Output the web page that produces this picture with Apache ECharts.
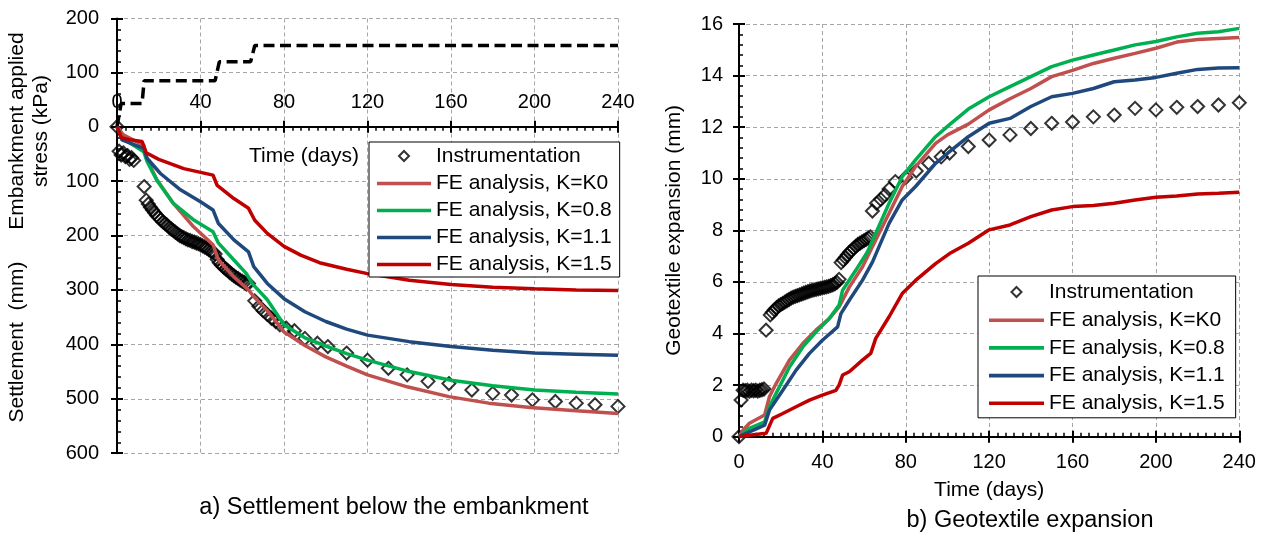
<!DOCTYPE html>
<html><head><meta charset="utf-8">
<script src="https://cdn.jsdelivr.net/npm/echarts@6/dist/echarts.min.js"></script>
<style>html,body{margin:0;padding:0;background:#fff}#c{width:1267px;height:533px}</style>
</head><body><div id="c"></div>
<script>
// ---------- DATA ----------
const seriesNames = ['Instrumentation','FE analysis, K=K0','FE analysis, K=0.8','FE analysis, K=1.1','FE analysis, K=1.5'];
const timeAxis = [0, 240, 40];        // min, max, step (days)
const stressAxis = [0, 200, 100];     // kPa
const settleAxis = [0, 600, 100];     // mm
const geoAxis = [0, 16, 2];           // mm

// Embankment applied stress (kPa)
const stressDays = [0, 2, 12, 13, 47, 49, 64, 66, 240];
const stressKPa  = [0, 43, 43, 85, 85, 120, 120, 150, 150];

// Settlement (mm) - instrumentation
const instDaysL = [0,1,2,3,4,5,6,7,8,13,14,15,16,17,18,19,20,21,22,23,24,25,26,27,28,29,30,31,32,33,34,35,36,37,38,39,40,41,42,43,44,45,46,47,48,49,50,51,52,53,54,55,56,57,58,59,60,61,62,63,66,68,70,72,74,76,78,81,85,90,96,101,110,120,130,139,149,159,170,180,189,199,210,220,229,240];
const instSettle = [0,45,52,48,55,53,60,57,62,110,135,142,148,153,158,163,167,171,175,178,181,185,188,191,194,197,200,202,204,206,208,209,211,212,214,215,217,219,221,223,226,229,231,234,244,250,254,258,261,264,268,271,274,277,279,282,284,286,289,288,320,330,338,345,352,358,364,370,375,389,398,404,416,429,444,456,468,472,484,490,493,502,505,508,511,514];

// Settlement (mm) - FE analyses
const k0DaysL = [0,3,12.8,14.4,19.2,27,36.7,46,48.6,56,63,65.5,72,80,90,100,110,120,139,159,178,198,220,240];
const k0Settle = [0,15,34,61,98,141,184,217,245,276,300,312,338,377,402,423,440,456,478,496,508,516,522,527];
const k08DaysL = [0,2.4,12.8,14.4,19,27,37,46,48.6,56,62,64.7,72,80,90,100,110,120,140,160,180,200,220,240];
const k08Settle = [0,21,46,64,98,141,172,193,214,245,270,288,318,364,388,403,417,429,450,466,476,484,488,491];
const k11DaysL = [0,2.4,12.8,14.4,20.8,30.4,40,46,48.6,56,63,65.5,72,80,90,100,110,120,140,160,180,200,220,240];
const k11Settle = [0,24,40,58,86,116,138,153,178,208,230,257,288,316,340,358,372,383,395,404,411,416,418,420];
const k15DaysL = [0,2,6,12,14,20,32,46,48,56,63,66,72,80,88,97,110,120,140,160,180,200,220,240];
const k15Settle = [0,20,24,27,48,60,77,89,108,132,150,172,196,220,236,250,262,270,282,290,295,298,300,301];

// Geotextile expansion (mm) - instrumentation
const instDaysR = [0,1,2,3,4,5,6,7,8,9,10,11,12,13,15,16,17,18,19,20,21,22,23,24,25,26,27,28,29,30,31,32,33,34,35,36,37,38,39,40,41,42,43,44,45,46,47,48,49,50,51,52,53,54,55,56,57,58,59,60,61,62,63,64,66,68,70,72,75,80,85,91,97,101,110,120,130,140,150,160,170,180,190,200,210,220,230,240];
const instExp = [0,1.42,1.8,1.78,1.8,1.76,1.8,1.78,1.8,1.77,1.8,1.82,1.85,4.13,4.72,4.82,4.92,5.0,5.07,5.12,5.17,5.22,5.27,5.32,5.37,5.41,5.44,5.47,5.5,5.53,5.56,5.59,5.62,5.65,5.67,5.69,5.71,5.73,5.75,5.77,5.79,5.81,5.83,5.86,5.89,5.93,5.98,6.1,6.75,6.85,6.95,7.05,7.15,7.22,7.3,7.38,7.45,7.5,7.55,7.6,7.65,7.7,7.75,8.75,9.05,9.2,9.37,9.6,9.89,10.05,10.3,10.6,10.85,11.0,11.25,11.5,11.7,11.95,12.15,12.2,12.4,12.47,12.73,12.67,12.77,12.8,12.86,12.95];

// Geotextile expansion (mm) - FE analyses
const k0DaysR = [0,2,5,12.3,14.6,17.8,24.2,30.6,36.9,43.3,48,52.9,59.2,62.4,65.6,72,78.3,84.7,94.3,100,110,120,130,140,150,160,170,180,190,200,210,220,230,240];
const k0Exp = [0,0.26,0.52,0.84,1.55,2.06,2.97,3.61,4.13,4.58,5.03,5.8,6.58,7.1,7.63,8.66,9.7,10.47,11.37,11.7,12.12,12.67,13.1,13.5,13.96,14.2,14.47,14.67,14.86,15.06,15.3,15.4,15.44,15.48];
const k08DaysR = [0,5,12.3,14.6,17.8,24.2,30.6,36.9,43.3,48,49.7,56,61.6,65.6,72,78.3,84.7,94.3,101,110,120,130,140,150,160,170,180,190,200,210,220,230,240];
const k08Exp = [0,0.32,0.58,1.16,1.68,2.7,3.48,4.06,4.58,5.1,5.68,6.45,7.16,7.89,9.05,10.08,10.73,11.63,12.1,12.7,13.18,13.57,13.96,14.35,14.6,14.8,14.99,15.19,15.32,15.5,15.64,15.7,15.83];
const k11DaysR = [0,5,12.3,14.6,21,27.4,33.8,40,47.3,48.9,52.9,59.2,64,67.2,72,78.3,84.7,94.3,101,110,120,130,140,150,160,170,180,190,200,210,220,230,240];
const k11Exp = [0,0.19,0.45,1.03,1.8,2.58,3.23,3.74,4.26,4.77,5.29,6.06,6.77,7.37,8.27,9.18,9.7,10.6,11.05,11.63,12.15,12.34,12.8,13.18,13.31,13.5,13.76,13.83,13.93,14.09,14.24,14.29,14.3];
const k15DaysR = [0,5,13,16.2,21,27.4,33.8,40,46.5,48,49.7,52.9,59.2,63.2,65.6,72,78.3,84.7,94.3,101,110,120,130,140,150,160,170,180,190,200,210,220,230,240];
const k15Exp = [0,0.06,0.13,0.71,0.9,1.16,1.42,1.61,1.8,2.0,2.39,2.52,2.97,3.23,3.81,4.65,5.55,6.06,6.71,7.1,7.5,8.02,8.21,8.53,8.79,8.92,8.96,9.05,9.18,9.28,9.33,9.41,9.44,9.48];

// ---------- CHART ----------
const zip = (a, b) => a.map((v, i) => [v, b[i]]);
const FONT = "'Liberation Sans', Arial, Helvetica, sans-serif";
const colors = ['#000000', '#C0504D', '#00B050', '#1F497D', '#C00000'];
const LINE_W = 3.5;
const dash = { show: true, lineStyle: { color: '#a6a6a6', width: 1, type: [4, 3] } };
const lbl = (m, extra) => Object.assign({ color: '#000', fontSize: 20, fontFamily: FONT, margin: m }, extra || {});

function mainAxis(gi, rng, o) {
  return Object.assign({
    type: 'value', gridIndex: gi, min: rng[0], max: rng[1], interval: rng[2],
    axisLine: { show: true, onZero: false, lineStyle: { color: '#000', width: 2 } },
    axisTick: { show: true, inside: true, length: 6, lineStyle: { color: '#000', width: 2 } },
    minorTick: { show: true, splitNumber: 5, length: 4, lineStyle: { color: '#000', width: 1.5 } },
    splitLine: dash, minorSplitLine: { show: false }
  }, o);
}
function overlayAxis(gi, rng, o) {
  return Object.assign({
    type: 'value', gridIndex: gi, min: rng[0], max: rng[1], interval: rng[2],
    axisLine: { show: false, onZero: false }, axisLabel: { show: false }, splitLine: { show: false },
    axisTick: { show: true, inside: false, length: 6, lineStyle: { color: '#000', width: 2 } },
    minorTick: { show: false }
  }, o);
}

const instStyle = { color: 'rgba(0,0,0,0)', borderColor: '#000', borderWidth: 2 };
function feSeries(name, color, xi, yi, data) {
  return { name, type: 'line', xAxisIndex: xi, yAxisIndex: yi, data, symbol: 'none', smooth: false,
    lineStyle: { color, width: LINE_W }, itemStyle: { color }, z: 3 };
}
function instSeries(xi, yi, data) {
  return { name: seriesNames[0], type: 'scatter', xAxisIndex: xi, yAxisIndex: yi, data,
    symbol: 'diamond', symbolSize: 13, itemStyle: instStyle, z: 2 };
}
function legendData(w) {
  const lineIcon = 'path://M0,0L0,0M' + w + ',20L' + w + ',20M0,8.2L' + w + ',8.2L' + w + ',11.8L0,11.8Z';
  return [
    { name: seriesNames[0], icon: 'path://M0,0L0,0M20,20L20,20M10,5L15,10L10,15L5,10Z', itemStyle: { color: 'rgba(0,0,0,0)', borderColor: '#000', borderWidth: 2 } },
    { name: seriesNames[1], icon: lineIcon, itemStyle: { color: colors[1], borderWidth: 0 } },
    { name: seriesNames[2], icon: lineIcon, itemStyle: { color: colors[2], borderWidth: 0 } },
    { name: seriesNames[3], icon: lineIcon, itemStyle: { color: colors[3], borderWidth: 0 } },
    { name: seriesNames[4], icon: lineIcon, itemStyle: { color: colors[4], borderWidth: 0 } }
  ];
}
function legend(left, top, pad, gap, w) {
  return { data: legendData(w), orient: 'vertical', left, top, padding: pad, itemGap: gap, itemWidth: w, itemHeight: 20,
    borderColor: '#000', borderWidth: 1, backgroundColor: '#fff', selectedMode: false, borderRadius: 0,
    textStyle: { color: '#000', fontSize: 21, fontFamily: FONT } };
}

const chart = echarts.init(document.getElementById('c'), null, { renderer: 'canvas' });
chart.setOption({
  animation: false,
  backgroundColor: '#fff',
  textStyle: { fontFamily: FONT },
  grid: [
    { left: 117, top: 18.5, width: 501, height: 108.2, outerBoundsMode: 'none' },
    { left: 117, top: 126.7, width: 501, height: 326.5, outerBoundsMode: 'none' },
    { left: 739, top: 24, width: 500.3, height: 412.7, outerBoundsMode: 'none' }
  ],
  xAxis: [
    { type: 'value', gridIndex: 0, min: timeAxis[0], max: timeAxis[1], interval: timeAxis[2],
      axisLine: { show: false }, axisTick: { show: false }, axisLabel: { show: false }, splitLine: dash },
    mainAxis(1, timeAxis, { position: 'top', axisLabel: lbl(14), minorTick: { show: true, splitNumber: 10, length: 4, lineStyle: { color: '#000', width: 1.5 } } }),
    overlayAxis(1, timeAxis, { position: 'top' }),
    mainAxis(2, timeAxis, { position: 'bottom', axisLabel: lbl(16), minorTick: { show: true, splitNumber: 10, length: 4, lineStyle: { color: '#000', width: 1.5 } },
      name: 'Time (days)', nameLocation: 'middle', nameGap: 43, nameTextStyle: { color: '#000', fontSize: 21, fontFamily: FONT } }),
    overlayAxis(2, timeAxis, { position: 'bottom' })
  ],
  yAxis: [
    mainAxis(0, stressAxis, { position: 'left', axisLabel: lbl(18, { showMinLabel: false }) }),
    overlayAxis(0, stressAxis, { position: 'left' }),
    mainAxis(1, settleAxis, { position: 'left', inverse: true, axisLabel: lbl(18) }),
    overlayAxis(1, settleAxis, { position: 'left', inverse: true }),
    mainAxis(2, geoAxis, { position: 'left', axisLabel: lbl(16),
      name: 'Geotextile expansion (mm)', nameLocation: 'middle', nameGap: 54, nameTextStyle: { color: '#000', fontSize: 21, fontFamily: FONT } }),
    overlayAxis(2, geoAxis, { position: 'left' })
  ],
  legend: [
    legend(369, 142, [3, 8, 2, 8], 6, 54),
    legend(978, 276, [5, 11, 4, 11], 6.7, 55)
  ],
  series: [
    { name: 'Applied stress', type: 'line', xAxisIndex: 0, yAxisIndex: 0, data: zip(stressDays, stressKPa), symbol: 'none',
      lineStyle: { color: '#000', width: 3.5, type: [11, 5.5] } },
    instSeries(1, 2, zip(instDaysL, instSettle)),
    feSeries(seriesNames[1], colors[1], 1, 2, zip(k0DaysL, k0Settle)),
    feSeries(seriesNames[2], colors[2], 1, 2, zip(k08DaysL, k08Settle)),
    feSeries(seriesNames[3], colors[3], 1, 2, zip(k11DaysL, k11Settle)),
    feSeries(seriesNames[4], colors[4], 1, 2, zip(k15DaysL, k15Settle)),
    instSeries(3, 4, zip(instDaysR, instExp)),
    feSeries(seriesNames[1], colors[1], 3, 4, zip(k0DaysR, k0Exp)),
    feSeries(seriesNames[2], colors[2], 3, 4, zip(k08DaysR, k08Exp)),
    feSeries(seriesNames[3], colors[3], 3, 4, zip(k11DaysR, k11Exp)),
    feSeries(seriesNames[4], colors[4], 3, 4, zip(k15DaysR, k15Exp))
  ],
  graphic: [
    { type: 'text', x: 304, y: 156, style: { text: 'Time (days)', font: '21px ' + FONT, fill: '#000', textAlign: 'center', textVerticalAlign: 'middle' }, z: 10 },
    { type: 'text', x: 29, y: 131, rotation: Math.PI / 2, style: { text: 'Embankment applied\nstress (kPa)', font: '21px ' + FONT, lineHeight: 24.5, fill: '#000', textAlign: 'center', textVerticalAlign: 'middle' } },
    { type: 'text', x: 17.5, y: 342, rotation: Math.PI / 2, style: { text: 'Settlement  (mm)', font: '21px ' + FONT, fill: '#000', textAlign: 'center', textVerticalAlign: 'middle' } },
    { type: 'text', x: 394, y: 508, style: { text: 'a) Settlement below the embankment', font: '23.5px ' + FONT, fill: '#000', textAlign: 'center', textVerticalAlign: 'middle' } },
    { type: 'text', x: 1030, y: 521, style: { text: 'b) Geotextile expansion', font: '23.5px ' + FONT, fill: '#000', textAlign: 'center', textVerticalAlign: 'middle' } }
  ]
});
</script></body></html>
